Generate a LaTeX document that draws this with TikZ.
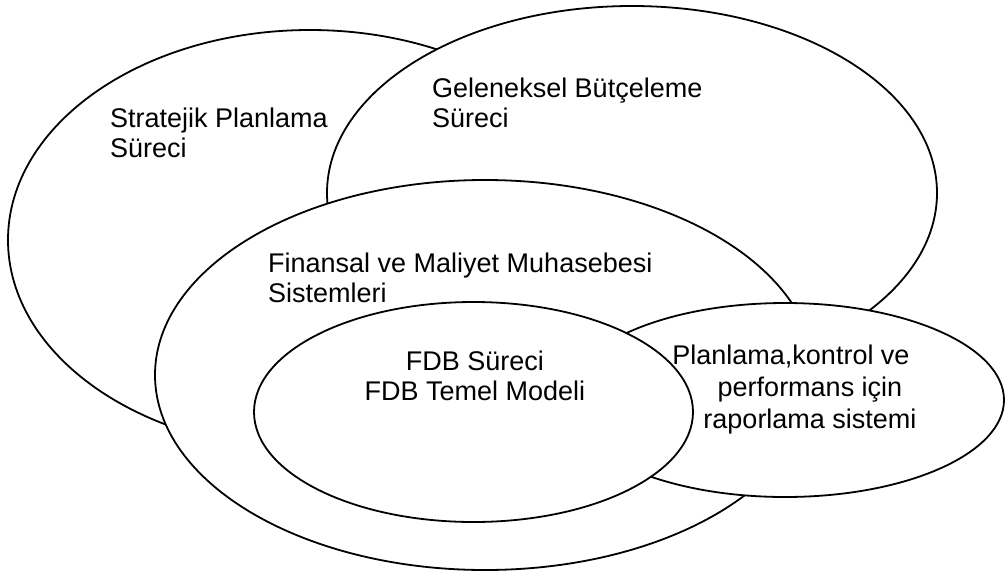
\documentclass[tikz,border=0pt]{standalone}
\usepackage{fontspec}
\setmainfont{Liberation Sans}
\usetikzlibrary{shapes.geometric}
\begin{document}
\begin{tikzpicture}[x=1pt,y=-1pt,
  zone/.style={ellipse, draw=black, line width=1.8pt, fill=white, inner sep=0pt, outer sep=0pt},
  caption/.style={inner sep=0pt, font=\fontsize{27}{30}\selectfont}]
\useasboundingbox (0,0) rectangle (1005,574);
% overlapping areas, back to front
\node[zone, minimum width=604pt, minimum height=420pt] (strat) at (310,240) {};
\node[zone, minimum width=610pt, minimum height=374pt] (gelen) at (632,193) {};
\node[zone, minimum width=660pt, minimum height=390pt] (finans) at (485,375) {};
\node[zone, minimum width=438pt, minimum height=194pt] (rapor) at (785,400) {};
\node[zone, minimum width=439pt, minimum height=220pt] (fdb) at (473.5,412) {};
% labels (base anchor sits on the last line)
\node[caption, anchor=base west, align=left] (tstrat) at (110,157) {Stratejik Planlama\\Süreci};
\node[caption, anchor=base west, align=left] (tgelen) at (432,127) {Geleneksel Bütçeleme\\Süreci};
\node[caption, anchor=base west, align=left] (tfinans) at (268,302) {Finansal ve Maliyet Muhasebesi\\Sistemleri};
\node[caption, anchor=base, align=center] (tfdb) at (475,400) {FDB Süreci\\FDB Temel Modeli};
\node[caption, anchor=base, align=center, font=\fontsize{27}{32}\selectfont] (trapor) at (810,428)
  {Planlama,kontrol ve\hspace*{38pt}\\performans için\\raporlama sistemi};
\end{tikzpicture}
\end{document}
